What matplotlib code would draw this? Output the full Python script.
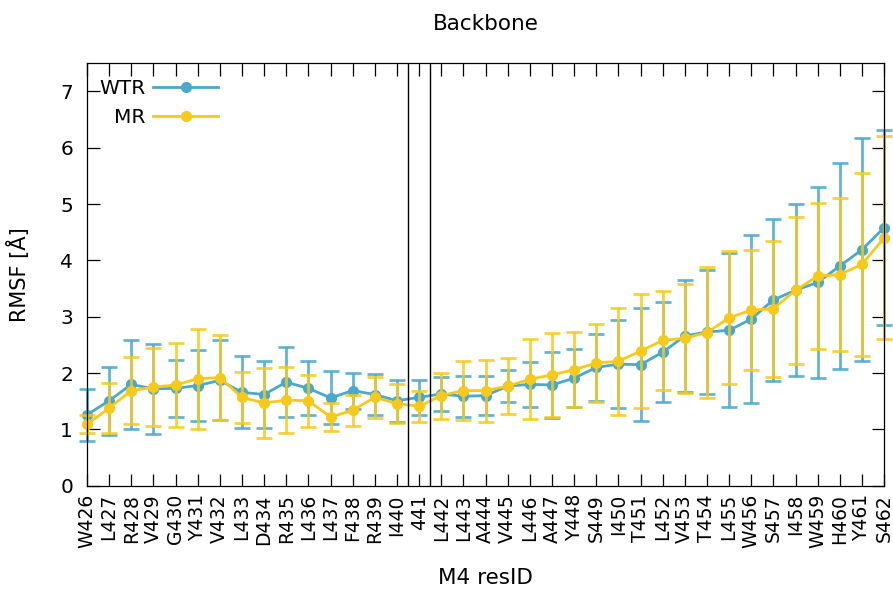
import matplotlib
matplotlib.use("Agg")
import matplotlib.pyplot as plt
import numpy as np

# residue labels along x
residues = ["W426", "L427", "R428", "V429", "G430", "Y431", "V432", "L433",
            "D434", "R435", "L436", "L437", "F438", "R439", "I440", "441",
            "L442", "L443", "A444", "V445", "L446", "A447", "Y448", "S449",
            "I450", "T451", "L452", "V453", "T454", "L455", "W456", "S457",
            "I458", "W459", "H460", "Y461", "S462"]

wtr_mean = [1.26, 1.51, 1.80, 1.72, 1.73, 1.78, 1.87, 1.66, 1.62, 1.84,
            1.73, 1.56, 1.69, 1.62, 1.51, 1.57, 1.63, 1.59, 1.60, 1.77,
            1.80, 1.79, 1.91, 2.10, 2.16, 2.15, 2.37, 2.66, 2.73, 2.76,
            2.96, 3.30, 3.47, 3.61, 3.90, 4.19, 4.58]
wtr_sd = [0.46, 0.60, 0.79, 0.80, 0.50, 0.63, 0.71, 0.64, 0.60, 0.62,
          0.48, 0.47, 0.32, 0.37, 0.37, 0.31, 0.30, 0.36, 0.34, 0.28,
          0.40, 0.58, 0.51, 0.60, 0.78, 1.00, 0.89, 1.00, 1.10, 1.37,
          1.49, 1.44, 1.53, 1.69, 1.83, 1.98, 1.73]

mr_mean = [1.09, 1.38, 1.69, 1.75, 1.79, 1.90, 1.92, 1.57, 1.47, 1.52,
           1.51, 1.22, 1.34, 1.57, 1.46, 1.41, 1.60, 1.69, 1.69, 1.77,
           1.89, 1.97, 2.06, 2.18, 2.21, 2.39, 2.58, 2.62, 2.72, 2.98,
           3.12, 3.14, 3.47, 3.72, 3.75, 3.93, 4.40]
mr_sd = [0.16, 0.45, 0.60, 0.69, 0.75, 0.89, 0.76, 0.45, 0.62, 0.59,
         0.46, 0.25, 0.28, 0.36, 0.34, 0.27, 0.41, 0.53, 0.55, 0.50,
         0.71, 0.75, 0.67, 0.70, 0.95, 1.01, 0.88, 0.97, 1.17, 1.18,
         1.07, 1.21, 1.30, 1.30, 1.35, 1.63, 1.80]

# residue 441 is boxed by two vertical lines
box_edges = [14.5, 15.5]

blue = "#4aa8cb"
yellow = "#f6c91c"

plt.rcParams["font.family"] = "DejaVu Sans"
fig = plt.figure(figsize=(8.93, 5.91), dpi=100)
ax = fig.add_axes([0.0974, 0.178, 0.8926, 0.715])

x = np.arange(len(residues))

for mean, sd, col, lab in [(wtr_mean, wtr_sd, blue, "WTR"),
                           (mr_mean, mr_sd, yellow, "MR")]:
    eb = ax.errorbar(x, mean, yerr=sd, fmt="none", ecolor=col,
                     elinewidth=2.0, capsize=6, capthick=2.0, alpha=0.85)
    for part in list(eb.lines[1]) + list(eb.lines[2]):
        part.set_clip_on(False)
    ln, = ax.plot(x, mean, "-o", color=col, lw=2.0, ms=7, label=lab)
    ln.set_clip_on(False)

for xv in box_edges:
    ax.axvline(xv, color="black", lw=1.0)

ax.set_xlim(0, len(residues) - 1)
ax.set_ylim(0, 7.5)
ax.set_yticks(range(8))
ax.set_xticks(x)
ax.set_xticklabels(residues, rotation=90, fontsize=13.5)
ax.tick_params(axis="y", labelsize=14.5, pad=10)
ax.tick_params(axis="x", pad=6)
ax.tick_params(direction="in", length=9, width=0.9, top=True, right=True)
for s in ax.spines.values():
    s.set_linewidth(0.9)

ax.set_title("Backbone", fontsize=15.5, pad=24)
ax.set_ylabel("RMSF [Å]", fontsize=15, labelpad=22)
ax.set_xlabel("M4 resID", fontsize=15.5, labelpad=14)

ax.legend(loc="upper left", bbox_to_anchor=(-0.005, 1.0), frameon=False,
          markerfirst=False, fontsize=14.5, handlelength=3.2,
          handletextpad=0.4, labelspacing=0.5, borderaxespad=0.4)

fig.savefig("out.png", dpi=100)
